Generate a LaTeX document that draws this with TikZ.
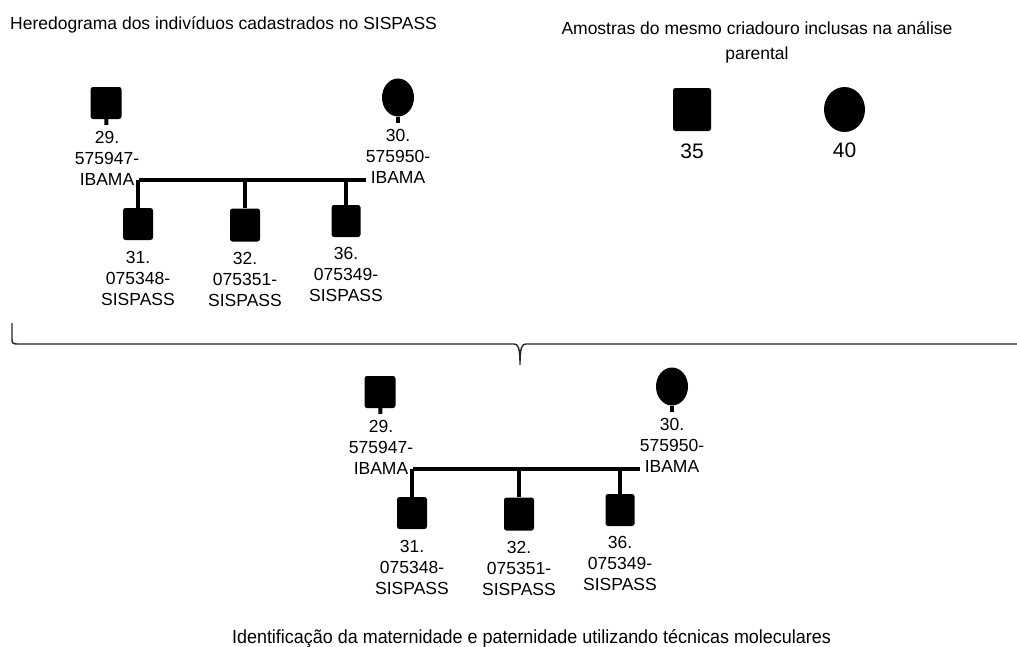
\documentclass[tikz,border=0pt]{standalone}
\usepackage{fontspec}
\setmainfont{Liberation Sans}
\newfontfamily\narrowfont[FakeStretch=0.945]{Liberation Sans}
\usetikzlibrary{shapes.geometric,positioning}

\tikzset{
  male/.style={rectangle, fill=black, rounded corners=2.5pt, minimum width=31pt, minimum height=32pt, inner sep=0pt},
  female/.style={ellipse, fill=black, minimum width=32pt, minimum height=38pt, inner sep=0pt},
  tag/.style={align=center, inner sep=0pt, font=\fontsize{17.5}{21}\selectfont},
  heading/.style={inner sep=0pt, font=\fontsize{17.5}{25}\selectfont},
  stem/.style={line width=4pt},
  bond/.style={line width=4.5pt},
}

\begin{document}
\begin{tikzpicture}[x=1pt, y=-1pt]
    \useasboundingbox (0,0) rectangle (1017,646);

    % titles
    \node[heading, anchor=base west] (t1) at (10,29) {Heredograma dos indivíduos cadastrados no SISPASS};
    \node[heading, anchor=north, align=center] (t2) at (757,21) {Amostras do mesmo criadouro inclusas na análise\\parental};
    \node[inner sep=0pt, anchor=base, font=\narrowfont\fontsize{19}{22}\selectfont] (t3) at (531.5,643) {Identificação da maternidade e paternidade utilizando técnicas moleculares};

    % the two pedigrees (same family, second one after the analysis)
    \foreach \p/\dx/\dy in {a/0/0, b/274/289} {
    \begin{scope}[shift={(\dx,\dy)}]
        \node[male] (\p f) at (106,103) {};
        \node[female] (\p m) at (398,97.5) {};
        \node[tag, anchor=north] (\p fl) at (107,131) {29.\\575947-\\IBAMA};
        \node[tag, anchor=north] (\p ml) at (398,129) {30.\\575950-\\IBAMA};
        \coordinate (\p k) at (0,180);

        \node[male, minimum width=30pt] (\p c1) at (138,224) {};
        \node[male, minimum width=30pt, minimum height=33pt] (\p c2) at (245,225) {};
        \node[male, minimum width=29pt] (\p c3) at (346,221) {};
        \node[tag, below=11pt of \p c1] (\p c1l) {31.\\075348-\\SISPASS};
        \node[tag, below=10pt of \p c2] (\p c2l) {32.\\075351-\\SISPASS};
        \node[tag, below=10pt of \p c3] (\p c3l) {36.\\075349-\\SISPASS};

        \draw[stem, shorten >=6pt] (\p f) -- (\p fl);
        \draw[stem, shorten >=6pt] (\p m) -- (\p ml);
        \draw[bond] (\p fl.east |- \p k) -- (\p ml.west |- \p k);
        \draw[stem] (\p c1) -- (\p c1 |- \p k);
        \draw[stem] (\p c2) -- (\p c2 |- \p k);
        \draw[stem] (\p c3) -- (\p c3 |- \p k);
    \end{scope}
    }

    % other samples from the same breeder
    \node[male, minimum width=38pt, minimum height=43pt] (s35) at (692,109.5) {};
    \node[female, minimum width=41pt, minimum height=45pt] (s40) at (844.5,109.5) {};
    \node[inner sep=0pt, font=\fontsize{21}{24}\selectfont, below=12pt of s35] (s35l) {35};
    \node[inner sep=0pt, font=\fontsize{21}{24}\selectfont, below=10pt of s40] (s40l) {40};

    % brace
    \draw[line width=1.4pt, black!85] (12,323) -- (12,339) .. controls (12,343) and (13,344) .. (17,344)
        -- (514,344) .. controls (518,344) and (520,347) .. (520,365)
        .. controls (520,347) and (522,344) .. (526,344) -- (1017,344);
\end{tikzpicture}
\end{document}
